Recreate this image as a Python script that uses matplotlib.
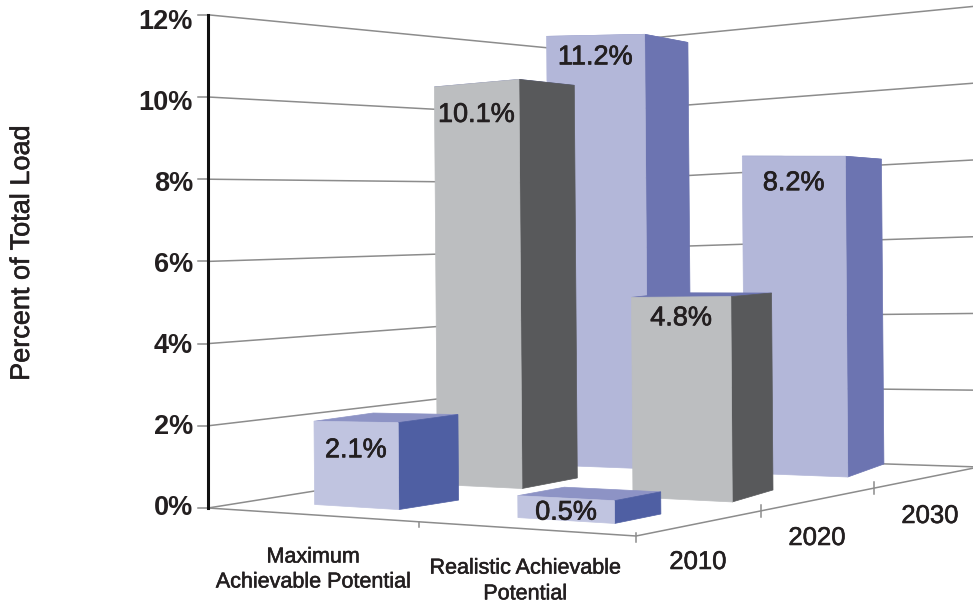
import matplotlib
matplotlib.use("Agg")
import matplotlib.pyplot as plt
from matplotlib.patches import Polygon
import matplotlib.patheffects as pe
import numpy as np

plt.rcParams['font.family'] = ['Liberation Sans', 'DejaVu Sans']

# chart data
categories = ["Maximum\nAchievable Potential", "Realistic Achievable\nPotential"]
years = ["2010", "2020", "2030"]
maximum_potential = [2.1, 10.1, 11.2]
realistic_potential = [0.5, 4.8, 8.2]
y_ticks = [0, 2, 4, 6, 8, 10, 12]

# floor corners in figure pixels, (category axis, year axis)
FLOOR_SRC = [(0, 0), (2, 0), (2, 3), (0, 3)]
FLOOR_DST = [(208, 508), (636, 536), (979, 467), (553, 453)]
# px per percent and sideways lean at those same corners
WALL_SCALE = [41.1, 47.0, 38.4, 33.75]
WALL_LEAN = [0.0, 0.3, 0.3, 0.3]
BAR_SCALE = [38.4, 47.8, 37.2, 37.0]
BAR_LEAN = [0.3, 0.3, 0.3, 0.3]

# bar footprints in floor units, [category][year]
BAR_U = [[0.335, 0.339, 0.318], [0.335, 0.346, 0.278]]
BAR_W = [[0.43, 0.429, 0.496], [0.41, 0.421, 0.445]]
BAR_V = [[0.35, 0.35, 0.40], [0.325, 0.235, 0.375]]
BAR_D = [[0.447, 0.529, 0.532], [0.38, 0.505, 0.618]]
BAR_SKEW = [[0.017, -0.024, -0.057], [-0.008, -0.07, -0.112]]
# the near face of the tall bars stands a bit higher than the far edge
FRONT_GAIN = [[1.0, 1.018, 1.018], [1.0, 1.0, 1.0]]

TEXT = "#231f20"
GRID = "#8c8c8c"
BLUE_BACK = ("#b3b7d9", "#6c74b1", "#8d93c5")
BLUE_FRONT = ("#c0c4e0", "#4f5fa3", "#8d93c5")
GRAY = ("#bcbec0", "#58595b", "#6c74b1")
row_colors = [BLUE_FRONT, GRAY, BLUE_BACK]
label_drop = [[29, 28, 21], [17, 21, 27]]


def fit_floor(src, dst):
    A = []
    for (u, v), (x, y) in zip(src, dst):
        A.append([u, v, 1, 0, 0, 0, -x * u, -x * v, -x])
        A.append([0, 0, 0, u, v, 1, -y * u, -y * v, -y])
    return np.linalg.svd(np.array(A, float))[2][-1].reshape(3, 3)


H = fit_floor(FLOOR_SRC, FLOOR_DST)


def proj(u, v, z=0.0, scale=WALL_SCALE, lean=WALL_LEAN):
    p = H @ np.array([u, v, 1.0])
    a, b = u / 2.0, v / 3.0
    w = [(1 - a) * (1 - b), a * (1 - b), a * b, (1 - a) * b]
    return p[0] / p[2] - z * np.dot(w, lean), p[1] / p[2] - z * np.dot(w, scale)


def bar_pt(u, v, z=0.0):
    return proj(u, v, z, BAR_SCALE, BAR_LEAN)


def draw_bar(ax, cat, yr, value, front, side, top, order):
    u0, u1 = cat + BAR_U[cat][yr], cat + BAR_U[cat][yr] + BAR_W[cat][yr]
    v0, v1 = yr + BAR_V[cat][yr], yr + BAR_V[cat][yr] + BAR_D[cat][yr]
    s = BAR_SKEW[cat][yr]
    near = value * FRONT_GAIN[cat][yr]
    # top first, on tall bars the front and side cover it
    ax.add_patch(Polygon([bar_pt(u0, v0, near), bar_pt(u1, v0, near), bar_pt(u1 + s, v1, value), bar_pt(u0 + s, v1, value)],
                         fc=top, ec=top, lw=0.5, zorder=order))
    ax.add_patch(Polygon([bar_pt(u1, v0), bar_pt(u1 + s, v1), bar_pt(u1 + s, v1, value), bar_pt(u1, v0, near)],
                         fc=side, ec=side, lw=0.5, zorder=order))
    ax.add_patch(Polygon([bar_pt(u0, v0), bar_pt(u1, v0), bar_pt(u1, v0, near), bar_pt(u0, v0, near)],
                         fc=front, ec=front, lw=0.5, zorder=order))
    left, right = bar_pt(u0, v0, near), bar_pt(u1, v0, near)
    return (left[0] + right[0]) / 2, left[1]


fig = plt.figure(figsize=(9.73, 6.04), dpi=100)
ax = fig.add_axes([0, 0, 1, 1])
ax.set_xlim(0, 973)
ax.set_ylim(604, 0)
ax.axis("off")

# back walls
for z in y_ticks:
    a, b, c = proj(0, 0, z), proj(0, 3, z), proj(2, 3, z)
    ax.plot([a[0], b[0], c[0]], [a[1], b[1], c[1]], color=GRID, lw=1.1, zorder=1)
    ax.plot([a[0] - 10, a[0]], [a[1], a[1]], color=GRID, lw=1.1, zorder=1)
    ax.text(193, 508 - z * 40.5, "%d%%" % z, ha="right", va="center", fontsize=19.5, fontweight="bold", color=TEXT)

# floor edges and ticks
edge = [proj(0, 0), proj(2, 0), proj(2, 3)]
ax.plot(*zip(*edge), color=GRID, lw=1.1, zorder=1)
for t, up, down in [((1.08, 0), 0, 5), ((2, 0), 3, 6), ((2, 0.98), 6, 6), ((2, 1.98), 6, 6)]:
    x, y = proj(*t)
    ax.plot([x, x], [y - up, y + down], color=GRID, lw=1.1, zorder=1)
ax.plot([208, 208], [proj(0, 0, 12)[1], proj(0, 0)[1]], color="#111111", lw=2.2, zorder=2)

# bars, back row first
order = 3
for yr in [2, 1, 0]:
    for cat, series in enumerate([maximum_potential, realistic_potential]):
        val = series[yr]
        cx, ty = draw_bar(ax, cat, yr, val, *row_colors[yr], order)
        ax.text(cx, ty + label_drop[cat][yr], "%.1f%%" % val, ha="center", va="center", fontsize=19.5,
                color=TEXT, zorder=order + 0.5,
                path_effects=[pe.withStroke(linewidth=0.5, foreground=TEXT)])
        order += 1

label_fx = [pe.withStroke(linewidth=0.4, foreground=TEXT)]
ax.text(22, 253, "Percent of Total Load", rotation=90, ha="center", va="center", fontsize=19.5,
        color=TEXT, path_effects=label_fx)
ax.text(313, 569.5, categories[0], ha="center", va="center", fontsize=15.5, color=TEXT, path_effects=label_fx,
        linespacing=1.25)
ax.text(525, 581, categories[1], ha="center", va="center", fontsize=15.5, color=TEXT, path_effects=label_fx,
        linespacing=1.3)
for name, x, y in zip(years, [698, 817, 930], [562, 538, 516]):
    ax.text(x, y, name, ha="center", va="center", fontsize=18.5, color=TEXT, path_effects=label_fx)

fig.savefig("out.png", dpi=100)
